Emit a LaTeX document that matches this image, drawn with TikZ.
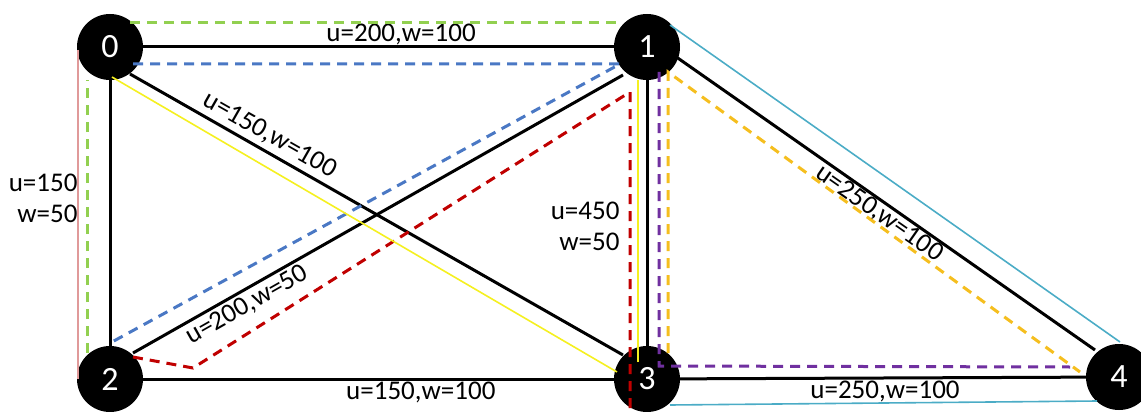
\documentclass[tikz,border=0pt]{standalone}
\usepackage{fontspec}
\setmainfont{Carlito}
\usetikzlibrary{calc}
\definecolor{pgreen}{HTML}{92D050}
\definecolor{pblue}{HTML}{4A78C4}
\definecolor{pred}{HTML}{C00000}
\definecolor{pyellow}{HTML}{F5F020}
\definecolor{ppurple}{HTML}{7030A0}
\definecolor{porange}{HTML}{F5BE1E}
\definecolor{pcyan}{HTML}{4BACC6}
\definecolor{ppink}{HTML}{E09A9A}

\begin{document}
\begin{tikzpicture}[
    x=1pt, y=-1pt,
    vtx/.style={circle, fill=black, minimum size=66pt, inner sep=0pt, text=white, font=\fontsize{34}{34}\selectfont},
    edge/.style={line width=3pt, black},
    lbl/.style={font=\fontsize{27}{31}\selectfont, inner sep=1pt, align=right},
    dsh/.style={line width=3pt, dash pattern=on 10pt off 7pt},
    thinpath/.style={line width=1.6pt}
]
\useasboundingbox (0,0) rectangle (1141,412);

% Vertices
\node[vtx] (n0) at (110,47) {0};
\node[vtx] (n1) at (647,47) {1};
\node[vtx] (n2) at (110,379) {2};
\node[vtx] (n3) at (647,379) {3};
\node[vtx] (n4) at (1119,377) {4};

% Edges
\draw[edge] (n0) -- node[lbl, above, pos=0.548] {u=200,w=100} (n1);
\draw[edge] (n0) -- node[lbl, left=30pt, pos=0.444] {u=150\\w=50} (n2);
\draw[edge] ($(n0)+(20,27)$) -- node[lbl, sloped, above, inner sep=4pt, pos=0.268] {u=150,w=100} ($(n3)+(-24,-24)$);
\draw[edge] ($(n2)+(23,-26)$) -- node[lbl, sloped, below, inner sep=3pt, pos=0.218] {u=200,w=50} ($(n1)+(-24,28)$);
\draw[edge] (n2) -- node[lbl, below, pos=0.59] {u=150,w=100} (n3);
\draw[edge] (n1) -- node[lbl, left=25pt, pos=0.55] {u=450\\w=50} (n3);
\draw[edge] ($(n1)+(25,7)$) -- node[lbl, sloped, below, inner sep=0pt, pos=0.506] {u=250,w=100} ($(n4)+(-24,-27)$);
\draw[edge] (n3) -- node[lbl, below, pos=0.505] {u=250,w=100} (n4);

% Paths
\draw[thinpath, ppink] ($(n0)+(-32,3)$) -- ($(n2)+(-32,0)$);
\draw[dsh, pgreen] ($(n2)+(-23,-26)$) -- ($(n0)+(-23,33)$);
\draw[dsh, pgreen] ($(n0)+(20,-24)$) -- ($(n1)+(-28,-24)$);
\draw[dsh, pblue] ($(n0)+(23,17)$) -- ($(n1)+(-27,17)$) -- ($(n2)+(2,-37)$);
\draw[dsh, pred] ($(n2)+(23,-22)$) -- ($(n2)+(83,-11)$) -- ($(n1)+(-17,45)$) -- ($(n3)+(-17,31)$);
\draw[thinpath, pyellow] ($(n0)+(2,30)$) -- ($(n3)+(-30,-7)$);
\draw[thinpath, pyellow] ($(n3)+(-9,-17)$) -- ($(n1)+(-9,33)$);
\draw[dsh, ppurple] ($(n1)+(12,25)$) -- ($(n3)+(12,-13)$) -- ($(n4)+(-49,-10)$);
\draw[dsh, porange] ($(n3)+(21,-26)$) -- ($(n1)+(21,25)$) -- ($(n4)+(-39,-5)$);
\draw[thinpath, pcyan] ($(n1)+(23,-22)$) -- ($(n4)+(1,-35)$);
\draw[thinpath, pcyan] ($(n3)+(23,26)$) -- ($(n4)+(-22,24)$);

\end{tikzpicture}
\end{document}
